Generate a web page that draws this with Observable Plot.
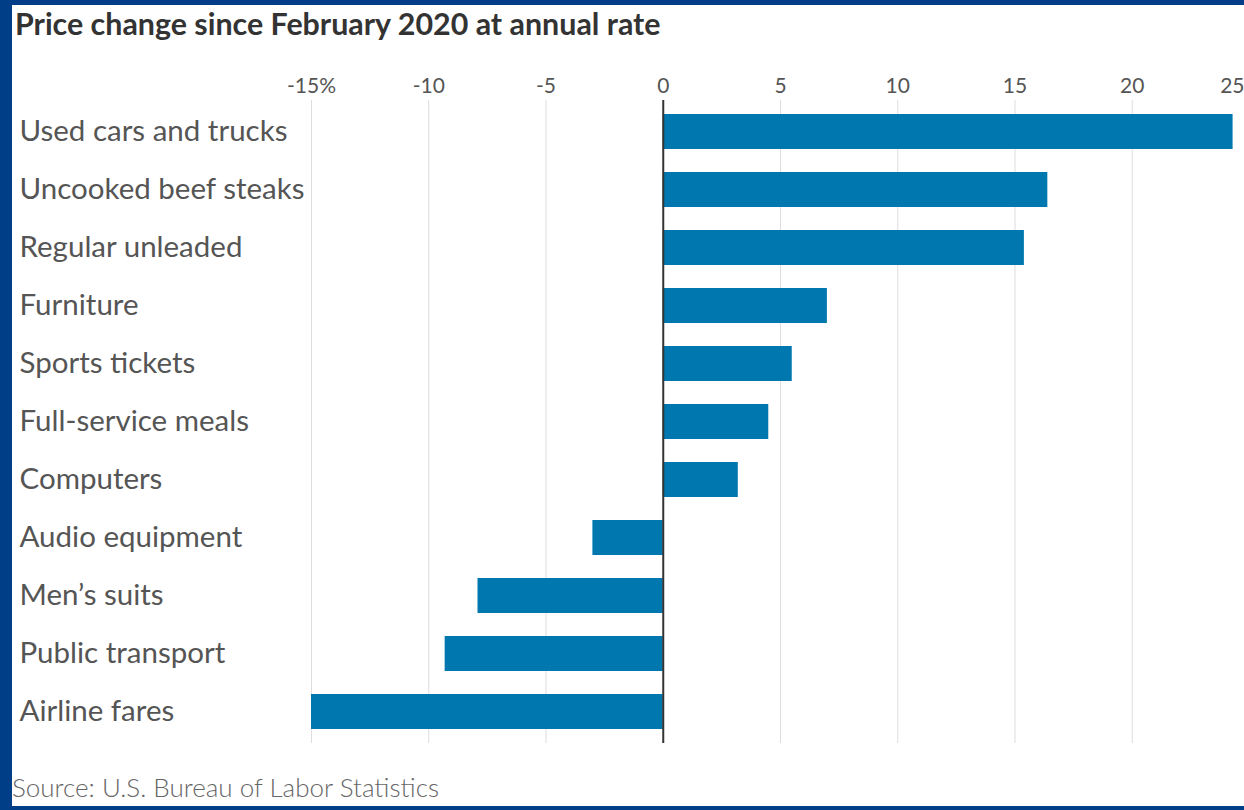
<!DOCTYPE html>
<html>
<head>
<meta charset="utf-8">
<script src="https://cdn.jsdelivr.net/npm/d3@7"></script>
<script src="https://cdn.jsdelivr.net/npm/@observablehq/plot@0.6"></script>
<style>
  html, body { margin: 0; padding: 0; height: 810px; overflow: hidden; background: #003f88; }
  #panel { position: absolute; left: 12px; top: 5px; width: 1400px; height: 801px; background: #fff; }
  #title { position: absolute; left: 15px; top: 5px; font-family: Lato, sans-serif; font-weight: 700; font-size: 30.4px; color: #333; white-space: nowrap; }
  #chart { position: absolute; left: 0; top: 40px; width: 1260px; }
  #chart svg { max-width: none !important; }
  #source { position: absolute; left: 12px; top: 771px; font-family: Lato, sans-serif; font-weight: 300; font-size: 26px; color: #666; white-space: nowrap; }
</style>
</head>
<body>
<div id="panel"></div>
<div id="title">Price change since February 2020 at annual rate</div>
<div id="chart"></div>
<div id="source">Source: U.S. Bureau of Labor Statistics</div>
<script>
const categories = [
  "Used cars and trucks",
  "Uncooked beef steaks",
  "Regular unleaded",
  "Furniture",
  "Sports tickets",
  "Full-service meals",
  "Computers",
  "Audio equipment",
  "Men’s suits",
  "Public transport",
  "Airline fares"
];
const values = [24.3, 16.4, 15.4, 7.0, 5.5, 4.5, 3.2, -3.0, -7.9, -9.3, -15.0];
const xTicks = [-15, -10, -5, 0, 5, 10, 15, 20, 25];
const xTickLabels = ["-15%", "-10", "-5", "0", "5", "10", "15", "20", "25"];

const data = categories.map((name, i) => ({name, value: values[i]}));
const tickLabel = d => xTickLabels[xTicks.indexOf(d)];
const lastTick = xTicks[xTicks.length - 1];

const chart = Plot.plot({
  width: 1260,
  height: 720,
  marginLeft: 311,
  marginRight: 11,
  marginTop: 60,
  marginBottom: 17,
  style: {fontFamily: "Lato, sans-serif", color: "#555", background: "transparent", overflow: "visible", maxWidth: "none"},
  x: {domain: [-15, 25], label: null},
  y: {domain: categories, paddingInner: 0.39, paddingOuter: 0.195, axis: null},
  marks: [
    Plot.ruleX(xTicks.filter(d => d !== 0), {stroke: "#ddd", strokeWidth: 1}),
    Plot.axisX({anchor: "top", ticks: xTicks.filter(d => d !== lastTick), tickFormat: tickLabel, tickSize: 0, tickPadding: 8, fontSize: 21, fill: "#555", label: null}),
    Plot.axisX({anchor: "top", ticks: [lastTick], tickFormat: tickLabel, tickSize: 0, tickPadding: 8, fontSize: 21, fill: "#555", label: null, textAnchor: "end", dx: -5}),
    Plot.barX(data, {x: "value", y: "name", fill: "#0077ae"}),
    Plot.ruleX([0], {stroke: "#333", strokeWidth: 2}),
    Plot.text(data, {y: "name", text: "name", frameAnchor: "left", textAnchor: "start", dx: -292, fontSize: 29.5, fill: "#555"})
  ]
});
document.getElementById("chart").appendChild(chart);
</script>
</body>
</html>
